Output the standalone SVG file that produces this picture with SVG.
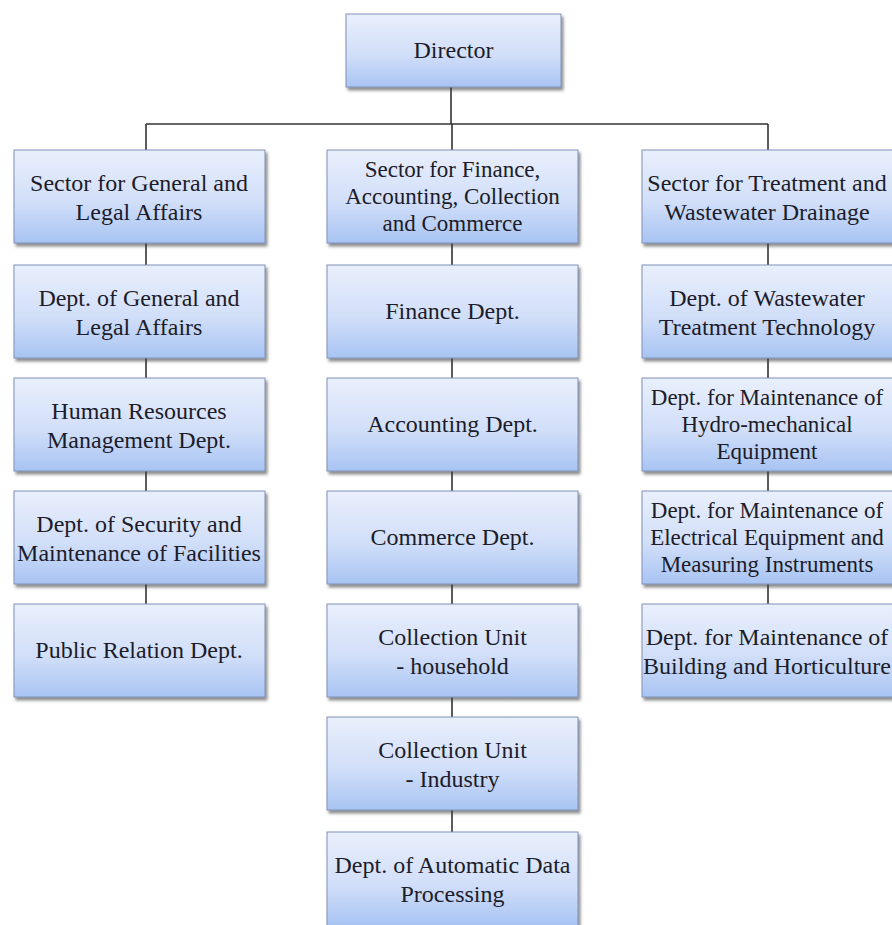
<svg xmlns="http://www.w3.org/2000/svg" width="892" height="925" viewBox="0 0 892 925">
<defs>
<linearGradient id="g" x1="0" y1="0" x2="0" y2="1">
<stop offset="0" stop-color="#e9effc"/>
<stop offset="0.55" stop-color="#d2dff9"/>
<stop offset="1" stop-color="#a8c4f3"/>
</linearGradient>
<filter id="sh" x="-5%" y="-5%" width="115%" height="125%">
<feDropShadow dx="2" dy="3" stdDeviation="1.6" flood-color="#404040" flood-opacity="0.6"/>
</filter>
</defs>
<style>
.box{fill:url(#g);stroke:#8092b6;stroke-width:1;filter:url(#sh)}
.t{font-family:"Liberation Serif","Times New Roman",serif;font-size:24px;fill:#1c1c2a;text-anchor:middle}
.t3{font-size:23px}
.c{stroke:#333;stroke-width:1.6;fill:none}
</style>
<rect width="892" height="925" fill="#ffffff"/>
<g id="connectors">
<path class="c" d="M451 87V124M146 124H768M146 124V604M452 124V832M768 124V604"/>
</g>
<g id="director"><rect class="box" x="346" y="14" width="215" height="73"/><text class="t" transform="translate(453.5,50.5)"><tspan x="0" y="7.5">Director</tspan></text></g>
<g id="l1"><rect class="box" x="14" y="150" width="251" height="93"/><text class="t" transform="translate(139,196.5)"><tspan x="0" y="-5.5">Sector for General and</tspan><tspan x="0" y="23.5">Legal Affairs</tspan></text></g>
<g id="l2"><rect class="box" x="14" y="265" width="251" height="93"/><text class="t" transform="translate(139,311.5)"><tspan x="0" y="-5.5">Dept. of General and</tspan><tspan x="0" y="23.5">Legal Affairs</tspan></text></g>
<g id="l3"><rect class="box" x="14" y="378" width="251" height="93"/><text class="t" transform="translate(139,424.5)"><tspan x="0" y="-5.5">Human Resources</tspan><tspan x="0" y="23.5">Management Dept.</tspan></text></g>
<g id="l4"><rect class="box" x="14" y="491" width="251" height="93"/><text class="t" transform="translate(139,537.5)"><tspan x="0" y="-5.5">Dept. of Security and</tspan><tspan x="0" y="23.5">Maintenance of Facilities</tspan></text></g>
<g id="l5"><rect class="box" x="14" y="604" width="251" height="93"/><text class="t" transform="translate(139,650.5)"><tspan x="0" y="7.5">Public Relation Dept.</tspan></text></g>
<g id="m1"><rect class="box" x="327" y="150" width="251" height="93"/><text class="t t3" transform="translate(452.5,196.5)"><tspan x="0" y="-19.5">Sector for Finance,</tspan><tspan x="0" y="7.5">Accounting, Collection</tspan><tspan x="0" y="34.5">and Commerce</tspan></text></g>
<g id="m2"><rect class="box" x="327" y="265" width="251" height="93"/><text class="t" transform="translate(452.5,311.5)"><tspan x="0" y="7.5">Finance Dept.</tspan></text></g>
<g id="m3"><rect class="box" x="327" y="378" width="251" height="93"/><text class="t" transform="translate(452.5,424.5)"><tspan x="0" y="7.5">Accounting Dept.</tspan></text></g>
<g id="m4"><rect class="box" x="327" y="491" width="251" height="93"/><text class="t" transform="translate(452.5,537.5)"><tspan x="0" y="7.5">Commerce Dept.</tspan></text></g>
<g id="m5"><rect class="box" x="327" y="604" width="251" height="93"/><text class="t" transform="translate(452.5,650.5)"><tspan x="0" y="-5.5">Collection Unit</tspan><tspan x="0" y="23.5">- household</tspan></text></g>
<g id="m6"><rect class="box" x="327" y="717" width="251" height="93"/><text class="t" transform="translate(452.5,763.5)"><tspan x="0" y="-5.5">Collection Unit</tspan><tspan x="0" y="23.5">- Industry</tspan></text></g>
<g id="m7"><rect class="box" x="327" y="832" width="251" height="94"/><text class="t" transform="translate(452.5,878.5)"><tspan x="0" y="-5.5">Dept. of Automatic Data</tspan><tspan x="0" y="23.5">Processing</tspan></text></g>
<g id="r1"><rect class="box" x="642" y="150" width="253" height="93"/><text class="t" transform="translate(767,196.5)"><tspan x="0" y="-5.5">Sector for Treatment and</tspan><tspan x="0" y="23.5">Wastewater Drainage</tspan></text></g>
<g id="r2"><rect class="box" x="642" y="265" width="253" height="93"/><text class="t" transform="translate(767,311.5)"><tspan x="0" y="-5.5">Dept. of Wastewater</tspan><tspan x="0" y="23.5">Treatment Technology</tspan></text></g>
<g id="r3"><rect class="box" x="642" y="378" width="253" height="93"/><text class="t t3" transform="translate(767,424.5)"><tspan x="0" y="-19.5">Dept. for Maintenance of</tspan><tspan x="0" y="7.5">Hydro-mechanical</tspan><tspan x="0" y="34.5">Equipment</tspan></text></g>
<g id="r4"><rect class="box" x="642" y="491" width="253" height="93"/><text class="t t3" transform="translate(767,537.5)"><tspan x="0" y="-19.5">Dept. for Maintenance of</tspan><tspan x="0" y="7.5">Electrical Equipment and</tspan><tspan x="0" y="34.5">Measuring Instruments</tspan></text></g>
<g id="r5"><rect class="box" x="642" y="604" width="253" height="93"/><text class="t" transform="translate(767,650.5)"><tspan x="0" y="-5.5">Dept. for Maintenance of</tspan><tspan x="0" y="23.5">Building and Horticulture</tspan></text></g>
</svg>
